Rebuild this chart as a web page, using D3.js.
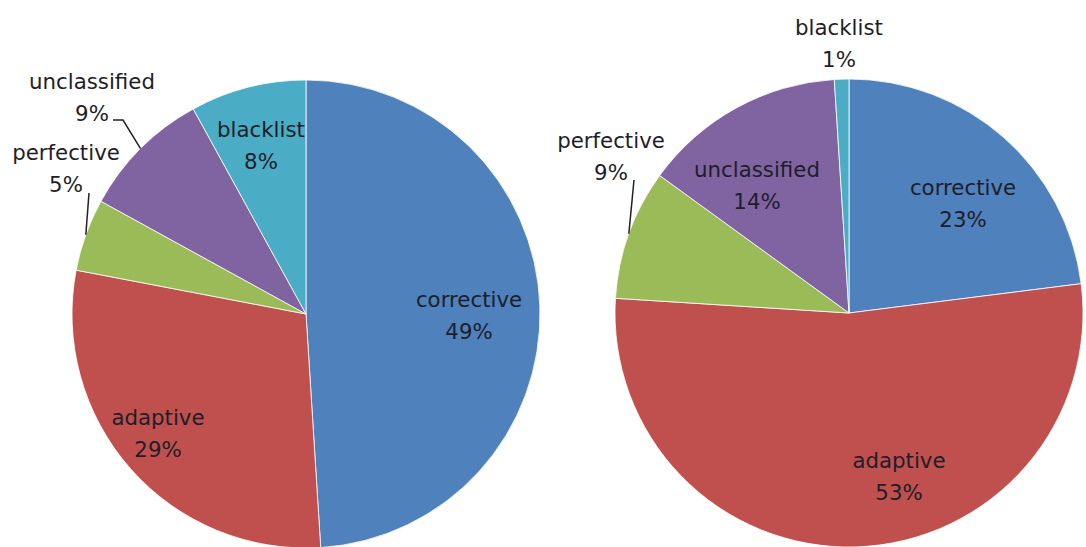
<!DOCTYPE html>
<html>
<head>
<meta charset="utf-8">
<script src="https://cdn.jsdelivr.net/npm/d3@7"></script>
<style>
  html, body { margin: 0; padding: 0; background: #ffffff; }
  svg { display: block; }
  text { font-family: "DejaVu Sans", sans-serif; font-size: 21.3px; fill: #1e1e2a; }
</style>
</head>
<body>
<svg id="chart" width="1086" height="547"></svg>
<script>
// ---- data ----
const categories = ["corrective", "adaptive", "perfective", "unclassified", "blacklist"];
const leftValues = [49, 29, 5, 9, 8];
const rightValues = [23, 53, 9, 14, 1];
const colors = ["#4F81BD", "#C0504D", "#9BBB59", "#8064A2", "#4BACC6"];

// ---- layout (label anchors relative to pie centre; leader points) ----
const leftLabelPos = [[163, -7], [-148, 111], [-240, -154], [-214, -225], [-45, -177]];
const rightLabelPos = [[114, -118], [50, 155], [-238, -165], [-92, -136], [-10, -278]];
const leftLeaders = { 2: [[-217, -121]], 3: [[-193, -194], [-183, -194]] };
const rightLeaders = { 2: [[-215, -133]] };

const svg = d3.select("#chart");
const R = 234;
const lineGap = 32;

function drawPie(cx, cy, values, labelPos, leaders) {
  const g = svg.append("g").attr("transform", `translate(${cx},${cy})`);
  const pie = d3.pie().sort(null).value(d => d)(values);
  const arc = d3.arc().innerRadius(0).outerRadius(R);
  const edge = d3.arc().innerRadius(R).outerRadius(R);

  g.selectAll("path.slice").data(pie).enter().append("path")
    .attr("class", "slice")
    .attr("d", arc)
    .attr("fill", (d, i) => colors[i])
    .attr("stroke", "#ffffff")
    .attr("stroke-width", 0.8);

  Object.keys(leaders).forEach(k => {
    const i = +k;
    const pts = leaders[k].concat([edge.centroid(pie[i])]);
    g.append("path")
      .attr("d", d3.line()(pts))
      .attr("fill", "none")
      .attr("stroke", "#222")
      .attr("stroke-width", 1.5);
  });

  const lab = g.selectAll("g.lab").data(pie).enter().append("g")
    .attr("class", "lab")
    .attr("transform", (d, i) => `translate(${labelPos[i][0]},${labelPos[i][1]})`);
  lab.append("text").attr("text-anchor", "middle").attr("y", 0)
    .text((d, i) => categories[i]);
  lab.append("text").attr("text-anchor", "middle").attr("y", lineGap)
    .text(d => d.value + "%");
}

drawPie(306, 314, leftValues, leftLabelPos, leftLeaders);
drawPie(849, 313, rightValues, rightLabelPos, rightLeaders);
</script>
</body>
</html>
